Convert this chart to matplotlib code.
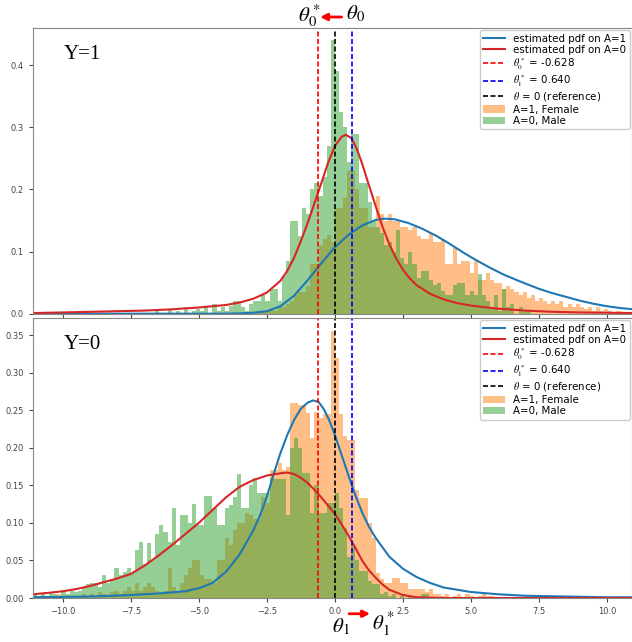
import numpy as np
import matplotlib
matplotlib.use("Agg")
import matplotlib.pyplot as plt
from matplotlib.patches import FancyArrowPatch

plt.rcParams['mathtext.fontset'] = 'stix'

# bin layout for the histograms
BIN_W = 0.15

# ---- Y=1 panel ----
top_male_start = -6.6
top_male = [0.005, 0, 0, 0.008, 0, 0.005, 0, 0.01, 0, 0.005,
            0.008, 0.005, 0.01, 0, 0.015, 0.005, 0.01, 0.005, 0.012, 0.02,
            0.02, 0.01, 0.005, 0.015, 0.02, 0.02, 0.03, 0.02, 0.04, 0.04,
            0.02, 0.06, 0.085, 0.15, 0.15, 0.125, 0.17, 0.16, 0.2, 0.21,
            0.19, 0.22, 0.27, 0.44, 0.39, 0.325, 0.3, 0.245, 0.29, 0.29,
            0.21, 0.21, 0.18, 0.15, 0.14, 0.13, 0.11, 0.115, 0.1, 0.135,
            0.09, 0.08, 0.1, 0.08, 0.057, 0.068, 0.068, 0.055, 0.046, 0.05,
            0.036, 0.03, 0.03, 0.046, 0.05, 0.05, 0.03, 0.036, 0.03, 0.064,
            0.03, 0.02, 0.01, 0.03, 0.005, 0.04, 0.01, 0.015, 0, 0.01,
            0.005, 0.005]

top_female_start = -3.3
top_female = [0.003, 0, 0.003, 0.005, 0.003, 0.005, 0.008, 0.005, 0.01, 0.01,
              0.015, 0.02, 0.03, 0.035, 0.035, 0.045, 0.08, 0.08, 0.11, 0.12,
              0.127, 0.116, 0.17, 0.17, 0.186, 0.23, 0.23, 0.2, 0.17, 0.17,
              0.14, 0.14, 0.19, 0.16, 0.15, 0.16, 0.15, 0.15, 0.14, 0.14,
              0.135, 0.14, 0.125, 0.12, 0.12, 0.13, 0.116, 0.116, 0.12, 0.08,
              0.08, 0.105, 0.08, 0.085, 0.085, 0.065, 0.085, 0.055, 0.055, 0.065,
              0.055, 0.05, 0.05, 0.04, 0.045, 0.04, 0.035, 0.03, 0.035, 0.025,
              0.03, 0.02, 0.025, 0.02, 0.015, 0.02, 0.015, 0.02, 0.01, 0.015,
              0.01, 0.015, 0.01, 0.008, 0.01, 0.005, 0.01, 0.005, 0.008, 0.005,
              0.003, 0.005, 0.003, 0.003]

top_red_x = [-11.1, -10, -9, -8, -7, -6, -5, -4.5, -4, -3.5, -3, -2.5, -2, -1.75,
             -1.5, -1.25, -1, -0.75, -0.5, -0.25, 0, 0.25, 0.4, 0.6, 0.8, 1.0,
             1.25, 1.5, 1.75, 2.0, 2.25, 2.5, 2.75, 3.0, 3.5, 4, 4.5, 5, 6, 7,
             8, 9, 10, 11]
top_red_y = [0.001, 0.002, 0.003, 0.004, 0.005, 0.007, 0.010, 0.012, 0.014, 0.018,
             0.024, 0.034, 0.053, 0.069, 0.09, 0.117, 0.146, 0.178, 0.21, 0.243,
             0.27, 0.285, 0.288, 0.283, 0.266, 0.242, 0.207, 0.173, 0.14, 0.112,
             0.089, 0.071, 0.057, 0.046, 0.032, 0.023, 0.017, 0.013, 0.008, 0.005,
             0.003, 0.002, 0.0015, 0.001]

top_blue_x = [-11.1, -4, -3.5, -3, -2.5, -2, -1.5, -1, -0.5, 0, 0.5, 1.0, 1.5,
              1.8, 2.2, 2.7, 3.2, 3.7, 4.2, 4.7, 5.2, 5.7, 6.2, 6.8, 7.5, 8,
              8.5, 9, 9.5, 10, 10.5, 11]
top_blue_y = [0, 0, 0.0005, 0.0015, 0.004, 0.012, 0.029, 0.054, 0.081, 0.107,
              0.127, 0.142, 0.151, 0.153, 0.152, 0.146, 0.137, 0.126, 0.113, 0.099,
              0.086, 0.074, 0.063, 0.052, 0.04, 0.033, 0.027, 0.021, 0.016, 0.012,
              0.009, 0.007]

# ---- Y=0 panel ----
bot_male_start = -11.1
bot_male = [0.005, 0.003, 0.005, 0, 0.008, 0.005, 0.003, 0.01, 0.005, 0.01,
            0.008, 0.01, 0.015, 0.018, 0.02, 0.02, 0.015, 0.03, 0.02, 0.025,
            0.04, 0.03, 0.035, 0.04, 0.033, 0.064, 0.075, 0.045, 0.073, 0.05,
            0.085, 0.097, 0.088, 0.075, 0.12, 0.07, 0.11, 0.11, 0.1, 0.125,
            0.097, 0.097, 0.136, 0.136, 0.12, 0.097, 0.097, 0.12, 0.124, 0.135,
            0.165, 0.12, 0.12, 0.15, 0.16, 0.14, 0.14, 0.14, 0.16, 0.158,
            0.158, 0.158, 0.11, 0.2, 0.213, 0.2, 0.166, 0.166, 0.113, 0.15,
            0.113, 0.113, 0.126, 0.126, 0.14, 0.12, 0.093, 0.054, 0.072, 0.05,
            0.036, 0.036, 0.023, 0.018, 0.018, 0.005, 0.008, 0.003, 0.005, 0,
            0.003, 0, 0.003, 0, 0, 0.005, 0.005]

bot_female_start = -10.2
bot_female = [0.005, 0.003, 0, 0.003, 0, 0.003, 0.005, 0, 0.005, 0.003,
              0.008, 0.005, 0.003, 0.008, 0.01, 0.005, 0.01, 0.015, 0.01, 0.02,
              0.01, 0.015, 0.02, 0.015, 0.01, 0.005, 0.01, 0.04, 0.015, 0.01,
              0.02, 0.03, 0.04, 0.05, 0.05, 0.03, 0.025, 0.025, 0.02, 0.05,
              0.05, 0.08, 0.07, 0.09, 0.1, 0.1, 0.113, 0.11, 0.105, 0.105,
              0.135, 0.127, 0.17, 0.17, 0.18, 0.17, 0.175, 0.26, 0.26, 0.257,
              0.257, 0.246, 0.213, 0.247, 0.24, 0.245, 0.245, 0.355, 0.32, 0.245,
              0.215, 0.21, 0.21, 0.144, 0.133, 0.133, 0.1, 0.08, 0.033, 0.025,
              0.02, 0.02, 0.027, 0.027, 0.02, 0.02, 0.012, 0.012, 0.012, 0.012,
              0.008, 0.012, 0.005, 0.005, 0.003, 0.005, 0, 0.003, 0.005, 0,
              0.005, 0.003, 0, 0.003, 0.005, 0.003, 0.003]

bot_red_x = [-11.1, -10.5, -10, -9.5, -9, -8.5, -8, -7.5, -7, -6.5, -6, -5.5, -5,
             -4.5, -4, -3.5, -3, -2.5, -2, -1.75, -1.5, -1.25, -1, -0.75, -0.5,
             -0.25, 0, 0.25, 0.5, 0.75, 1, 1.25, 1.5, 1.75, 2, 2.5, 3, 4, 11]
bot_red_y = [0.005, 0.007, 0.009, 0.012, 0.016, 0.021, 0.026, 0.032, 0.043, 0.056,
             0.07, 0.085, 0.1, 0.117, 0.134, 0.148, 0.157, 0.163, 0.166, 0.167,
             0.165, 0.16, 0.153, 0.144, 0.134, 0.123, 0.112, 0.098, 0.083, 0.067,
             0.05, 0.037, 0.027, 0.018, 0.011, 0.004, 0.001, 0, 0]

bot_blue_x = [-11.1, -9, -7.5, -6.5, -5.5, -5, -4.5, -4, -3.5, -3, -2.75, -2.5,
              -2.25, -2, -1.75, -1.5, -1.25, -1.0, -0.8, -0.6, -0.4, -0.2, 0,
              0.25, 0.5, 0.75, 1.0, 1.25, 1.5, 2, 2.5, 3, 3.5, 4, 4.5, 5, 6, 7,
              8.5, 10, 11]
bot_blue_y = [0.001, 0.002, 0.004, 0.006, 0.009, 0.013, 0.02, 0.035, 0.058, 0.09,
              0.11, 0.135, 0.165, 0.193, 0.217, 0.237, 0.252, 0.26, 0.263, 0.261,
              0.251, 0.236, 0.217, 0.19, 0.163, 0.137, 0.114, 0.095, 0.08, 0.055,
              0.039, 0.028, 0.02, 0.014, 0.011, 0.008, 0.005, 0.003, 0.002, 0.001,
              0.001]

theta0_star = -0.628
theta1_star = 0.640

C_BLUE = '#1f77b4'
C_RED = '#d62728'
C_ORANGE = '#ff7f0e'
C_GREEN = '#2ca02c'


def bin_edges(start, heights):
    return start + BIN_W * np.arange(len(heights))


def draw_panel(ax, female, f_start, male, m_start, blue_x, blue_y, red_x, red_y):
    l1, = ax.plot(blue_x, blue_y, color=C_BLUE, lw=1.5, label='estimated pdf on A=1')
    l2, = ax.plot(red_x, red_y, color=C_RED, lw=1.5, label='estimated pdf on A=0')
    l3 = ax.axvline(theta0_star, color='r', ls=(0, (3, 1.5)), lw=1.2,
                    label=r'$\theta_0^*$ = -0.628')
    l4 = ax.axvline(theta1_star, color='b', ls=(0, (3, 1.5)), lw=1.2,
                    label=r'$\theta_1^*$ = 0.640')
    l5 = ax.axvline(0, color='k', ls=(0, (3, 1.5)), lw=1.2,
                    label=r'$\theta$ = 0 (reference)')
    b1 = ax.bar(bin_edges(f_start, female), female, width=BIN_W, align='edge',
                color=C_ORANGE, alpha=0.5, lw=0, label='A=1, Female')
    b2 = ax.bar(bin_edges(m_start, male), male, width=BIN_W, align='edge',
                color=C_GREEN, alpha=0.5, lw=0, label='A=0, Male')
    ax.legend(handles=[l1, l2, l3, l4, l5, b1, b2], loc='upper right',
              prop={'family': 'DejaVu Sans', 'size': 7.4},
              borderaxespad=0.2, handlelength=2.1, labelspacing=0.12,
              borderpad=0.35, framealpha=1)
    ax.set_xlim(-11.1, 10.92)
    for s in ax.spines.values():
        s.set_color('#888888')
    ax.tick_params(labelsize=6, colors='#444444', length=3)


fig = plt.figure(figsize=(6.32, 6.42), dpi=100)
ax1 = fig.add_axes([0.052, 0.5114, 0.948, 0.445])
ax2 = fig.add_axes([0.052, 0.0685, 0.948, 0.436])

draw_panel(ax1, top_female, top_female_start, top_male, top_male_start,
           top_blue_x, top_blue_y, top_red_x, top_red_y)
draw_panel(ax2, bot_female, bot_female_start, bot_male, bot_male_start,
           bot_blue_x, bot_blue_y, bot_red_x, bot_red_y)

ax1.set_ylim(0, 0.46)
ax1.set_yticks([0.0, 0.1, 0.2, 0.3, 0.4])
ax1.set_xticks([-10, -7.5, -5, -2.5, 0, 2.5, 5, 7.5, 10])
ax1.tick_params(labelbottom=False)
ax2.set_ylim(0, 0.3725)
ax2.set_yticks([0.0, 0.05, 0.10, 0.15, 0.20, 0.25, 0.30, 0.35])
ax2.yaxis.set_major_formatter(matplotlib.ticker.FormatStrFormatter('%.2f'))
ax2.set_xticks([-10, -7.5, -5, -2.5, 0, 2.5, 5, 7.5, 10])

ax1.text(0.052, 0.94, 'Y=1', transform=ax1.transAxes, fontsize=15,
         family='Liberation Serif', va='top')
ax2.text(0.052, 0.94, 'Y=0', transform=ax2.transAxes, fontsize=15,
         family='Liberation Serif', va='top')

# theta annotations around the plot
fig.text(0.49, 0.975, r'$\theta_0^*$', fontsize=15, ha='center', va='center')
fig.text(0.563, 0.978, r'$\theta_0$', fontsize=15, ha='center', va='center')
fig.add_artist(FancyArrowPatch((0.545, 0.9735), (0.502, 0.9735), transform=fig.transFigure,
                               arrowstyle='-|>', mutation_scale=10, color='red', lw=2))
fig.text(0.54, 0.024, r'$\theta_1$', fontsize=15, ha='center', va='center')
fig.text(0.607, 0.027, r'$\theta_1^*$', fontsize=15, ha='center', va='center')
fig.add_artist(FancyArrowPatch((0.548, 0.044), (0.59, 0.044), transform=fig.transFigure,
                               arrowstyle='-|>', mutation_scale=10, color='red', lw=2))

fig.savefig('out.png', dpi=100)
